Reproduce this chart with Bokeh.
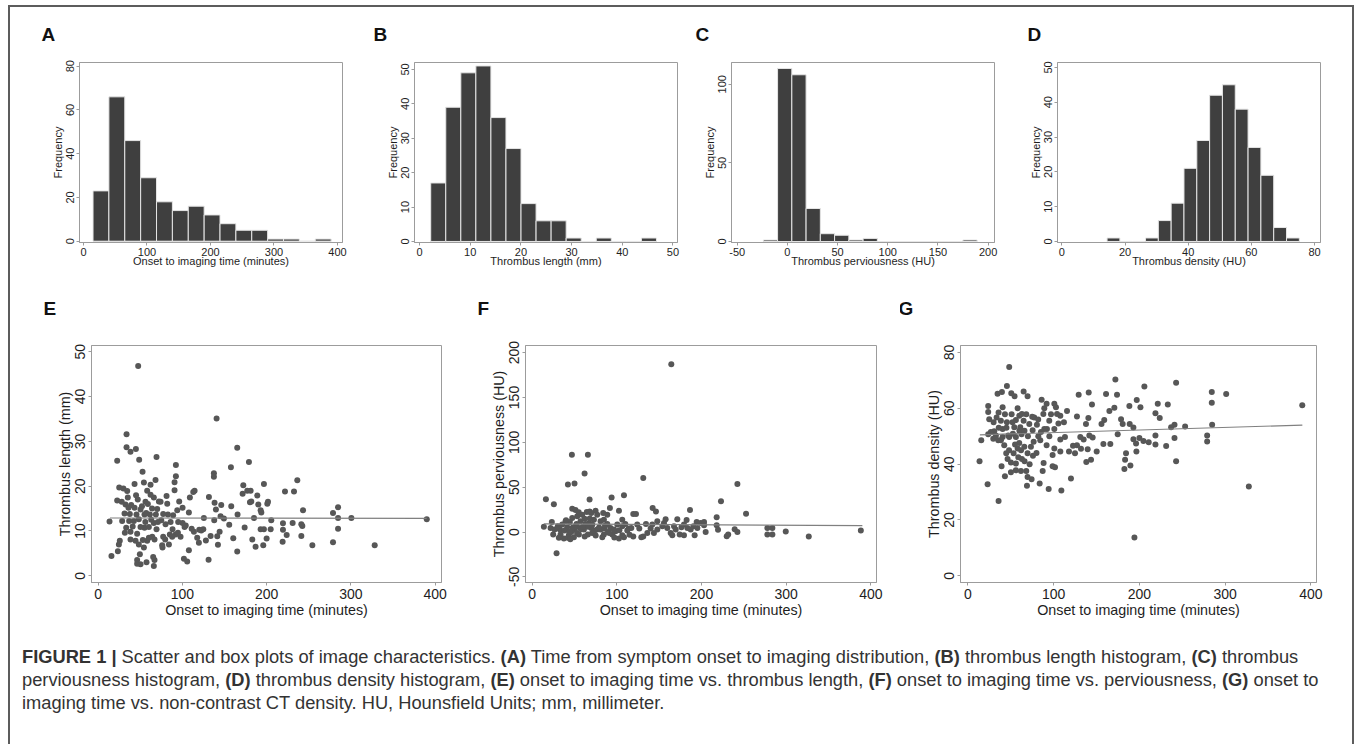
from bokeh.plotting import figure
from bokeh.models import Range1d, Div
from bokeh.layouts import column, row
from bokeh.embed import file_html
from bokeh.resources import INLINE

FONT = "Liberation Sans"

# ---------------- histogram data ----------------
a_start, a_width = 15.0, 25.0
a_counts = [23, 66, 46, 29, 18, 14, 16, 12, 8, 5, 5, 1, 1, 0, 1]
b_start, b_width = 2.2, 2.97
b_counts = [17, 39, 49, 51, 36, 27, 11, 6, 6, 1, 0, 1, 0, 0, 1]
c_start, c_width = -24.0, 14.2
c_counts = [1, 110, 106, 21, 5, 4, 1, 2, 0, 0, 0, 0, 0, 0, 1]
d_start, d_width = 14.3, 4.06
d_counts = [1, 0, 0, 1, 6, 11, 21, 29, 42, 45, 38, 27, 19, 4, 1]

a_xticks = [0, 100, 200, 300, 400]
a_yticks = [0, 20, 40, 60, 80]
b_xticks = [0, 10, 20, 30, 40, 50]
b_yticks = [0, 10, 20, 30, 40, 50]
c_xticks = [-50, 0, 50, 100, 150, 200]
c_yticks = [0, 50, 100]
d_xticks = [0, 20, 40, 60, 80]
d_yticks = [0, 10, 20, 30, 40, 50]

# ---------------- scatter data ----------------
e_onset = [47.5, 140.6, 33.7, 33.7, 38.4, 44.8, 22.6, 48.7, 69.3, 165.1,
           179, 157.6, 92.3, 92.3, 137.4, 137.4, 52.7, 25, 22.6, 13.5,
           15.8, 23.4, 24.6, 25.7, 236.4, 221.8, 232.5, 196.8, 172.3, 171.5,
           177, 181, 188.9, 180.2, 181.8, 192.9, 193.7, 190.1, 200.8, 201.6,
           243.2, 284.8, 278.8, 284.8, 300.6, 284.8, 390.1, 328.3, 278.8, 254.3,
           241.2, 242.4, 241.2, 230.9, 219.4, 219.4, 223.8, 219, 205.5, 204.8,
           200, 196, 196.8, 192.9, 186.9, 183, 185, 173.9, 165.1, 165.5,
           158, 160.4, 155.6, 149.3, 145.3, 146.1, 139.8, 138.2, 137.8, 144.2,
           141.4, 142.2, 133.5, 131.1, 131.5, 127.9, 125.5, 124.8, 122.4, 119.6,
           117.6, 113.7, 112.9, 114.5, 108.9, 107.7, 102.6, 107.7, 105.7, 101.8,
           100.2, 100.2, 97.8, 96.2, 93.9, 90.7, 90.7, 91.9, 88.3, 86,
           82.8, 81.2, 82, 79.6, 76, 77.2, 74.1, 70.1, 72.1, 66.1,
           68.5, 69.3, 66.1, 66.9, 66.9, 66.1, 65.3, 68.1, 62.2, 62.2,
           58.2, 56.2, 54.3, 55, 55, 58.2, 54.3, 57.4, 50.3, 49.5,
           46.3, 46.3, 48.3, 44.4, 38.4, 38.4, 36.8, 43.2, 34.5, 35.2,
           32.5, 39.2, 37.6, 31.3, 28.5, 33.3, 31.7, 42.4, 45.5, 43.2,
           50.3, 48.3, 50.3, 46.3, 60.2, 61.4, 64.2, 60.2, 74.9, 77.2,
           85.1, 87.9, 94.7, 84, 76.4,
           52, 57, 63, 47, 41, 53, 59, 71, 80, 89,
           95, 104, 111, 120, 36, 28, 30, 45, 56, 64]
e_length = [46.8, 35.1, 31.6, 28.7, 27.7, 28.3, 25.7, 25.9, 26.5, 28.6,
            25.4, 24.2, 24.7, 22.2, 22.9, 22.1, 23.2, 19.7, 16.8, 12.1,
            4.4, 5.5, 7.0, 7.8, 21.3, 18.8, 18.8, 20.5, 20.2, 18.3,
            19.0, 19.0, 17.9, 16.4, 16.6, 14.6, 14.1, 15.9, 16.1, 16.5,
            14.6, 15.3, 14.0, 12.9, 12.9, 10.5, 12.6, 6.8, 7.5, 6.8,
            8.9, 11.1, 11.5, 11.8, 11.7, 10.3, 9.1, 7.6, 12.4, 10.4,
            8.3, 6.8, 10.4, 10.4, 6.5, 8.1, 12.9, 10.8, 5.4, 13.7,
            15.5, 8.4, 11.4, 12.8, 13.3, 15.8, 14.8, 16.3, 12.4, 9.8,
            8.8, 6.9, 8.9, 3.6, 17.6, 7.9, 12.9, 10.4, 10.1, 7.4,
            8.5, 9.8, 18.7, 19.0, 17.5, 14.1, 10.9, 5.7, 3.2, 3.8,
            11.8, 15.2, 8.7, 16.6, 14.6, 19.1, 20.9, 9.2, 10.4, 12.0,
            13.7, 17.8, 16.1, 8.1, 6.8, 13.8, 16.5, 14.9, 16.6, 17.5,
            13.7, 10.4, 11.8, 8.1, 3.5, 2.2, 4.2, 21.4, 20.3, 18.1,
            19.0, 16.5, 20.8, 13.7, 10.7, 7.8, 6.3, 3.0, 2.6, 4.8,
            2.7, 3.5, 7.0, 7.8, 8.1, 9.8, 12.2, 20.5, 18.9, 17.5,
            15.9, 15.8, 13.8, 13.9, 12.2, 10.7, 9.6, 12.2, 13.7, 15.2,
            14.8, 12.6, 10.9, 9.4, 10.9, 13.7, 8.7, 8.5, 12.4, 8.7,
            9.2, 8.7, 9.6, 7.0, 6.3,
            15.5, 14.0, 12.5, 17.0, 11.0, 8.0, 16.0, 12.0, 11.5, 13.5,
            12.0, 11.2, 10.5, 10.3, 15.2, 16.5, 19.5, 18.0, 12.0, 15.0]
e_fit_x = [14, 390]
e_fit_y = [12.9, 12.8]

f_onset = [164.3, 46.9, 65.8, 61.9, 42.2, 50, 131.2, 242.4, 16.2, 25.6,
           93.8, 108.4, 67.8, 223, 252.6, 217.9, 186.4, 142.3, 146.2, 119.4,
           122.6, 91.8, 102.5, 74.9, 64.5, 67.9, 47.3, 51.2, 157.6, 171.4,
           182.4, 217.9, 219.5, 239.2, 242.4, 229.8, 231.5, 277.8, 283.7, 277.8,
           283.7, 299.5, 326.7, 388.2, 28.8, 191.9, 179.3, 174.2, 165.5, 163.6,
           159.6, 155.7, 167.5, 176.3, 179.3, 183.3, 190.4, 194.3, 199, 203,
           204.9, 187.2, 147.8, 143.8, 139.9, 136, 134.4, 128.9, 131.2, 126.5,
           124.1, 119.4, 113.9, 108.4, 106.4, 102.5, 98.5, 100.5, 106.4, 106.4,
           92.6, 88.7, 84.7, 82.8, 76.8, 80.8, 84.7, 88.7, 83.9, 72.9,
           69.8, 65.8, 61.1, 57.1, 53.2, 47.3, 44.5, 41.4, 43.3, 37.4,
           42.2, 33.5, 32.7, 35.5, 30.3, 24.8, 21.7, 23.2, 13.8, 50,
           52.4, 55.2, 59.1, 61.9, 69.8, 76.8, 94.6, 96.6, 112.3, 117.1,
           141.9, 147.8, 153.7, 169.5, 203, 195.1, 38.2, 46.1, 67.3, 73.7,
           80.8, 85.5, 89.5, 26.4, 31.5, 49.3, 39.4, 51.2, 56.4, 63.0,
           70.9,
           44, 48, 53, 58, 62, 66, 71, 75, 79, 86,
           91, 97, 103, 110, 115, 40, 55, 60, 45, 68]
f_perv = [187.1, 86.3, 86.3, 65.3, 53.1, 54.2, 60.1, 53.5, 36.6, 31.0,
          38.5, 41.1, 36.3, 34.4, 20.4, 16.4, 24.5, 26.7, 23.0, 20.1,
          20.1, 26.7, 23.7, 23.7, 22.3, 23.0, 26.0, 24.5, 14.2, 14.2,
          13.4, 7.5, 2.4, 3.1, 0.1, -4.6, -2.8, 4.6, 4.6, -2.8,
          -2.8, 0.5, -5.0, 1.6, -23.8, -3.5, -3.5, -2.8, -3.5, -1.0,
          4.6, 10.1, 6.4, 5.3, 8.3, 4.6, 6.4, 11.2, 10.1, 11.2,
          0.1, 2.7, 2.7, -1.0, 3.8, -1.0, 9.0, -5.7, -5.0, 3.8,
          8.3, -5.0, 3.8, -5.7, -3.5, -7.2, 0.9, 8.3, 13.8, 6.4,
          4.6, 9.0, -2.8, -5.7, 2.7, 11.9, 13.8, 19.3, 21.2, 13.8,
          4.6, -2.8, 2.7, 11.9, 17.5, 15.6, 11.2, 5.3, -3.5, -7.2,
          -6.4, -2.8, 2.7, 8.3, 6.4, -2.8, 4.6, 11.2, 6.0, 2.7,
          9.0, -2.8, 19.3, 14.9, 21.2, 19.3, -2.8, 2.7, 1.6, 4.6,
          8.3, 12.0, 6.4, 2.7, 7.5, 4.6, 1.6, 0.1, 10.1, 1.6,
          2.7, 3.8, 0.1, 2.7, -6.4, -5.7, 11.9, 6.4, 4.6, 9.0,
          -1.0,
          0, 5, -1, 3, -5, 6, 8, -4, 5, 7,
          -1, -6, 2, 9, -3, 13, 22, 6, -8, 15]
f_fit_x = [14, 390]
f_fit_y = [9.0, 7.1]

g_onset = [48.2, 172, 242.8, 205.8, 45.5, 284.4, 301.2, 140.9, 129.2, 161.1,
           173.9, 65, 69.6, 34.6, 39.7, 50.6, 54.5, 284.4, 389.9, 221.4,
           233.1, 196.9, 201.2, 188.3, 170.8, 165, 144.7, 127.2, 115.6, 100.8,
           102.7, 91.8, 86, 89.1, 218.7, 223.7, 178.6, 180.5, 159, 140.5,
           137.7, 155.8, 284.8, 253.3, 240.9, 237, 218.7, 240.9, 279, 279,
           193, 200, 204.7, 196.1, 196.5, 218.7, 231.2, 242.8, 193, 188.7,
           174.7, 166.1, 158, 150.2, 145.5, 141.6, 139.7, 143.6, 138.1, 135,
           131.9, 131.1, 127.2, 122.6, 124.9, 120.2, 117.9, 113.2, 107.8, 107.8,
           109, 100.8, 101.6, 98.8, 98.8, 94.2, 91.8, 88.3, 87.2, 83.7,
           84.4, 82.1, 76.7, 73.5, 75.9, 74.3, 69.6, 68.1, 68.9, 61.9,
           56, 50.2, 56, 50.2, 44.7, 39.3, 43.2, 35.8, 23, 13.6,
           15.6, 23.7, 23.7, 23.7, 24.9, 30.7, 33.5, 35.8, 38.5, 40.5,
           40.5, 43.2, 45.5, 47.1, 51, 54.1, 56, 59.9, 61.1, 62.6,
           65, 65.8, 68.1, 69.6, 71.6, 58, 53.3, 48.2, 40.5, 38.5,
           29.6, 35.4, 77.4, 80.5, 92.2, 96.9, 94.9, 105.6, 107.8, 100.8,
           89.1, 85.2, 75.5, 56, 42.4, 46.3, 52.5, 59.9, 63, 66.1,
           58.8, 32.7, 26.8,
           194.2, 327.6, 189.5, 182.5, 183.3, 184.4, 210.9,
           45, 52, 60, 63, 70, 75, 82, 88, 95, 48,
           55, 66, 72, 80, 36, 30, 104, 112, 58, 62]
g_density = [74.8, 70.3, 69.2, 67.8, 68.0, 65.8, 65.1, 65.7, 64.9, 65.1,
             64.9, 66.0, 64.3, 65.2, 65.8, 65.4, 64.3, 62.0, 61.1, 61.6,
             61.4, 63.0, 60.4, 60.8, 60.2, 59.0, 61.4, 57.1, 59.0, 61.6,
             60.4, 61.6, 63.1, 60.0, 58.2, 56.5, 56.1, 54.4, 55.8, 56.5,
             54.4, 54.4, 54.1, 53.5, 54.1, 53.2, 50.3, 49.4, 50.3, 48.1,
             48.9, 49.4, 48.3, 47.4, 44.5, 47.0, 46.5, 41.0, 53.1, 54.4,
             50.7, 47.2, 47.2, 44.5, 49.5, 50.3, 45.3, 41.6, 40.8, 48.8,
             45.5, 49.7, 46.8, 46.6, 43.9, 34.9, 44.5, 49.7, 48.8, 44.5,
             30.6, 45.6, 38.9, 39.2, 43.3, 31.1, 46.8, 40.4, 37.5, 33.1,
             48.6, 50.0, 48.0, 46.2, 43.0, 34.6, 35.4, 37.5, 32.3, 37.5,
             37.8, 37.1, 40.2, 40.6, 43.9, 39.2, 35.7, 26.8, 32.8, 41.0,
             48.6, 50.7, 58.7, 60.8, 56.1, 51.8, 56.7, 58.5, 55.5, 52.6,
             60.4, 57.9, 55.0, 50.3, 57.9, 53.2, 55.8, 57.3, 53.2, 50.7,
             55.5, 46.2, 57.9, 43.9, 54.4, 45.6, 43.9, 49.7, 49.7, 48.6,
             49.1, 48.6, 56.7, 54.1, 52.6, 57.9, 55.5, 54.6, 57.3, 52.6,
             52.6, 51.5, 52.1, 49.7, 46.8, 41.8, 50.9, 47.6, 41.8, 41.0,
             42.5, 50.3, 51.5,
             13.7, 32.0, 39.5, 38.3, 41.6, 43.9, 47.8,
             53, 55, 52, 58, 50, 57, 56, 58, 50, 45,
             47, 52, 40, 44, 53, 55, 58, 55, 60, 45]
g_fit_x = [14, 390]
g_fit_y = [50.5, 54.0]

scatter_xticks = [0, 100, 200, 300, 400]
e_yticks = [0, 10, 20, 30, 40, 50]
f_yticks = [-50, 0, 50, 100, 150, 200]
g_yticks = [0, 20, 40, 60, 80]

AXIS_GRAY = "#9c9c9c"
TEXT = "#1e1e1e"


def make_fig(w, h, mbl, mbr, mbt, mbb, xr, yr, xticks, yticks, xlabel, ylabel,
             tick_fs, label_fs, tick_out, lab_stand, x_axl_stand, y_axl_stand):
    p = figure(width=w, height=h, x_range=Range1d(*xr), y_range=Range1d(*yr),
               output_backend="svg", toolbar_location=None,
               min_border_left=mbl, min_border_right=mbr,
               min_border_top=mbt, min_border_bottom=mbb)
    p.xgrid.visible = False
    p.ygrid.visible = False
    p.outline_line_color = AXIS_GRAY
    p.outline_line_width = 1
    p.background_fill_color = "white"
    p.border_fill_color = "white"
    p.xaxis.ticker = xticks
    p.yaxis.ticker = yticks
    p.xaxis.axis_label = xlabel
    p.yaxis.axis_label = ylabel
    p.yaxis.major_label_orientation = "vertical"
    p.xaxis.major_label_overrides = {-50: "-50"}
    p.yaxis.major_label_overrides = {-50: "-50"}
    p.xaxis.axis_label_standoff = x_axl_stand
    p.yaxis.axis_label_standoff = y_axl_stand
    for ax in (p.xaxis[0], p.yaxis[0]):
        ax.axis_line_color = AXIS_GRAY
        ax.major_tick_line_color = AXIS_GRAY
        ax.minor_tick_line_color = None
        ax.major_tick_out = tick_out
        ax.major_tick_in = 0
        ax.major_label_standoff = lab_stand
        ax.major_label_text_font = FONT
        ax.major_label_text_font_size = tick_fs
        ax.major_label_text_color = TEXT
        ax.axis_label_text_font = FONT
        ax.axis_label_text_font_size = label_fs
        ax.axis_label_text_font_style = "normal"
        ax.axis_label_text_color = TEXT
    return p


def add_letter(p, txt, dx, standoff):
    p.title.text = txt
    p.title.align = "left"
    p.title.offset = dx
    p.title.standoff = standoff
    p.title.text_font = FONT
    p.title.text_font_style = "bold"
    p.title.text_font_size = "19px"
    p.title.text_color = "#111111"


def hist(p, start, width, counts):
    lefts = [start + i * width for i in range(len(counts))]
    rights = [start + (i + 1) * width for i in range(len(counts))]
    p.quad(left=lefts, right=rights, bottom=0, top=counts,
           fill_color="#3f3f3f", line_color="#e6e6e6", line_width=1)


# top row geometry (layout starts at page 0,0)
TH, TMT, TMB = 269, 62, 27
HFS = "11px"
TOP_SO = 36
XAS = -4

pa = make_fig(360, TH, 79, 18, TMT, TMB, (-6.3, 407.9), (-0.6, 81.7), a_xticks, a_yticks,
              "Onset to imaging time (minutes)", "Frequency", HFS, HFS, 3, 2, XAS, 0)
hist(pa, a_start, a_width, a_counts)
add_letter(pa, "A", -38, TOP_SO)

pb = make_fig(335, TH, 54, 18, TMT, TMB, (-1.0, 50.9), (-0.3, 52.0), b_xticks, b_yticks,
              "Thrombus length (mm)", "Frequency", HFS, HFS, 3, 2, XAS, 0)
hist(pb, b_start, b_width, b_counts)
add_letter(pb, "B", -41, TOP_SO)

pc = make_fig(320, TH, 36, 21, TMT, TMB, (-55.7, 206.3), (-0.6, 113.8), c_xticks, c_yticks,
              "Thrombus perviousness (HU)", "Frequency", HFS, HFS, 3, 2, XAS, 0)
hist(pc, c_start, c_width, c_counts)
add_letter(pc, "C", -36, TOP_SO)

pd = make_fig(326, TH, 42, 21, TMT, TMB, (-1.4, 81.9), (-0.3, 51.4), d_xticks, d_yticks,
              "Thrombus density (HU)", "Frequency", HFS, HFS, 3, 2, XAS, 0)
hist(pd, d_start, d_width, d_counts)
add_letter(pd, "D", -30, TOP_SO)

# bottom row geometry (row starts at y=269, frames start at y=343)
BH, BMT = 371, 74
PT_COLOR = "#575757"
FIT_COLOR = "#808080"
SFS = "14.3px"
BOT_SO = 53

pe = make_fig(465, BH, 91, 24, BMT, BH - BMT - 239, (-7.9, 407.6), (-1.5, 51.4),
              scatter_xticks, e_yticks, "Onset to imaging time (minutes)",
              "Thrombus length (mm)", "14px", SFS, 3, 3, 0, 0)
pe.scatter(e_onset, e_length, size=6, fill_color=PT_COLOR, line_color=None)
pe.line(e_fit_x, e_fit_y, line_color=FIT_COLOR, line_width=1.2)
add_letter(pe, "E", -48, BOT_SO)

pf = make_fig(435, BH, 60, 24, BMT, BH - BMT - 239, (-7.9, 406.7), (-56.3, 208.0),
              scatter_xticks, f_yticks, "Onset to imaging time (minutes)",
              "Thrombus perviousness (HU)", "14px", SFS, 3, 3, 0, 0)
pf.scatter(f_onset, f_perv, size=6, fill_color=PT_COLOR, line_color=None)
pf.line(f_fit_x, f_fit_y, line_color=FIT_COLOR, line_width=1.2)
add_letter(pf, "F", -48, BOT_SO)

pg = make_fig(441, BH, 60, 25, BMT, BH - BMT - 243, (-8.6, 406.5), (-2.4, 82.5),
              scatter_xticks, g_yticks, "Onset to imaging time (minutes)",
              "Thrombus density (HU)", "14px", SFS, 3, 3, 0, 0)
pg.scatter(g_onset, g_density, size=6, fill_color=PT_COLOR, line_color=None)
pg.line(g_fit_x, g_fit_y, line_color=FIT_COLOR, line_width=1.2)
add_letter(pg, "G", -62, BOT_SO)

caption_html = (
    '<div style="position:fixed;left:8px;top:5px;width:1346px;height:800px;'
    'border:2px solid #5c5c5c;box-sizing:border-box;pointer-events:none"></div>'
    '<div style="font-family:\'Liberation Sans\',Arial,sans-serif;font-size:18.3px;'
    'line-height:23px;color:#333333;white-space:nowrap;padding:0 0 0 17px">'
    '<b>FIGURE 1 |</b> Scatter and box plots of image characteristics. <b>(A)</b> Time from symptom '
    'onset to imaging distribution, <b>(B)</b> thrombus length histogram, <b>(C)</b> thrombus<br>'
    'perviousness histogram, <b>(D)</b> thrombus density histogram, <b>(E)</b> onset to imaging time '
    'vs. thrombus length, <b>(F)</b> onset to imaging time vs. perviousness, <b>(G)</b> onset to<br>'
    'imaging time vs. non-contrast CT density. HU, Hounsfield Units; mm, millimeter.'
    '</div>'
)
caption = Div(text=caption_html, width=1341, height=100)

layout = column(row(pa, pb, pc, pd), row(pe, pf, pg), caption)

open("out.html", "w").write(file_html(layout, INLINE))
